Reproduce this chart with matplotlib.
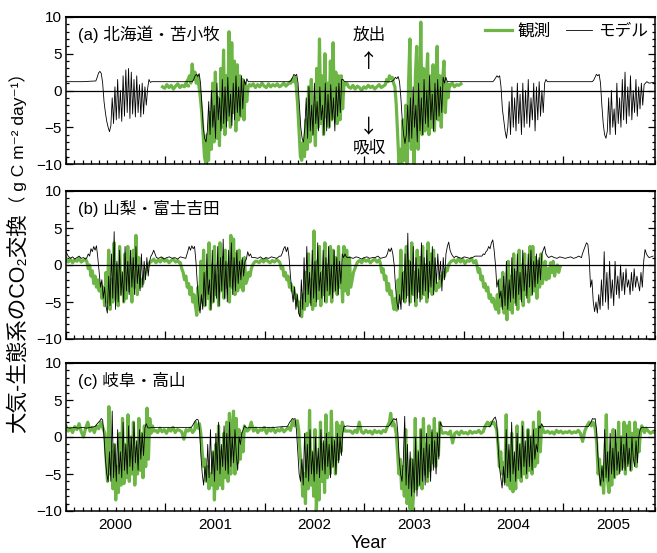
"""
大気-生態系のCO2交換: 観測 vs モデル (苫小牧・富士吉田・高山)
"""
import matplotlib
matplotlib.use('Agg')
import matplotlib.pyplot as plt
import numpy as np
from matplotlib.ticker import MultipleLocator, FixedLocator, FuncFormatter, NullFormatter
from matplotlib.lines import Line2D

plt.rcParams['font.family'] = ['Liberation Sans', 'Noto Sans CJK JP', 'DejaVu Sans']

GREEN = '#6DB646'; BLACK = '#000000'

# 各系列: (開始年, 間隔[日], 値リスト) のセグメント
A_OBS = [
    (2000.97, 8, [0.5, 0.3, 0.8, 0.4, 0.7, 0.2, 0.6, 0.9, 0.4, 0.7, 0.5, 0.9, 0.6]),
    (2001.20, 5, [0.8, 1.2, 1.5, 2.0, 1.0, 3.6, 1.5, 2.5, 1.0, 2.0, 0.5, -1.0, -3.0, -6.0, -9.0, -10.0,
                  -6.0, -9.5, -3.0, -8.0, 1.0, -7.0, 2.5, -6.5, -1.0, -7.5, 3.0, -5.0, 5.5, -6.0, 2.0,
                  -4.0, 8.0, -5.0, 6.5, -3.0, 4.0, -5.5, 3.5, -4.0, 2.0, -3.5, 1.5, -4.0, 1.0,
                  -1.5, 0.5, 0.8]),
    (2001.86, 8, [0.6, 0.9, 0.4, 0.8, 0.5, 1.0, 0.6, 0.4, 0.9, 0.5, 0.8, 0.6, 0.9, 0.5, 0.7, 1.0,
                  0.6, 0.9, 1.2]),
    (2002.26, 5, [1.0, 1.5, 1.2, 1.8, 0.5, -2.0, -5.5, -9.0, -9.5, -7.0, -9.0, -4.0, -8.0, 0.5, -7.0,
                  1.5, -6.0, -2.0, -7.5, 3.0, -5.0, 7.0, -4.5, 2.0, -6.0, 5.0, -3.5, 1.0, -5.0, 4.0,
                  -4.0, 6.5, -3.5, 2.5, -4.5, 2.0, -4.0, 2.0, -2.5, 1.0, 0.8, 1.0]),
    (2002.84, 8, [0.5, 0.3, 0.7, 0.2, 0.6, 0.4, 0.0, 0.5, 0.3, 0.7, 0.4, 0.6, 0.2, 0.5, 0.8, 0.4, 0.6]),
    (2003.21, 5, [0.8, 1.5, 1.2, 2.0, 1.6, 1.8, 1.0, 0.5, -2.0, -6.0,
                  -10.0, -8.0, -10.0, -4.0, -9.5, -2.0, -10.0, 1.0, 7.0, -8.0, -3.0, -10.0, 2.0, 6.0,
                  -8.0, -2.0, 9.3, -6.0, 3.0, -5.5, 1.0, 5.0, -6.0, 2.0, -5.0, 3.5, -5.5, 1.0, 6.0,
                  -4.0, 2.0, -5.0, 1.5, 4.0, -3.0, 1.0, -1.0, 0.8]),
    (2003.86, 8, [0.6, 1.0, 0.5, 0.8, 0.7, 0.9]),
]
A_MOD = [
    (2000.00, 30, [1.2, 1.2, 1.2]),
    (2000.30, 5, [1.3, 1.8, 2.4, 2.6, 2.3, 1.0, -1.5, -3.0, -4.2, -5.0, -5.6,
                  -4.8, -1.0, -4.5, 0.5, -4.0, 1.5, -3.8, 0.0, -4.2, 2.0, -3.5, 2.8, -3.0, 3.0, -3.8,
                  2.5, -3.2, 1.5, -3.6, 2.0, -3.0, 0.8, -3.6, 1.0, -3.2, 0.5, -2.0, 0.3, 1.5, 1.1, 1.2]),
    (2001.27, 5, [1.2, 1.5, 2.0, 2.2, 1.9, 2.3, 1.0, -2.0, -5.0, -6.5, -7.0,
                  -5.5, -1.5, -6.0, 0.0, -5.0, -2.0, -6.5, 1.0, -4.0, -1.0, -5.5, 1.5, -4.5, 0.5, -5.0,
                  1.8, -3.5, -0.5, -4.8, 1.0, -4.0, 2.0, -3.0, 0.5, -3.5, 2.0, -2.5, 1.5, 0.8, 1.6, 1.2]),
    (2002.25, 5, [1.2, 1.4, 1.8, 2.2, 2.0, 2.2, 1.0, -2.0, -5.0, -6.5, -7.0,
                  -5.0, -1.0, -6.5, 0.5, -5.5, -2.0, -6.0, 1.0, -4.5, -1.5, -5.5, 0.5, -4.0, -2.0, -6.0,
                  1.0, -5.5, -0.5, -5.0, 0.8, -4.0, -1.0, -5.5, 0.5, -3.5, 1.0, -3.0, 1.5, 1.5, 1.2]),
    (2003.27, 5, [1.2, 1.3, 1.5, 1.8, 1.6, 1.9, 1.2, -1.0, -4.0, -6.0, -7.2,
                  -6.0, -2.0, -7.0, -1.0, -6.5, 0.5, -5.0, -2.0, -7.0, 1.0, -5.5, -1.0, -6.0, 1.5, -4.5,
                  0.0, -5.0, 2.0, -4.0, -0.5, -5.5, 1.0, -4.0, 1.5, -3.5, 0.5, -3.0, 1.8, 1.0, 1.8, 1.2]),
    (2004.29, 5, [1.2, 1.4, 1.7, 2.0, 1.8, 2.0, 0.5, -2.5, -4.0, -5.5, -6.5,
                  -5.0, -1.5, -6.0, 0.5, -5.0, -1.0, -5.5, 1.0, -4.5, -0.5, -6.0, 1.0, -5.0, 0.0, -4.5,
                  1.5, -5.0, -1.0, -4.0, 1.0, -5.5, 0.5, -4.0, 1.2, -3.5, 0.0, -3.0, 1.0, 1.5, 1.2]),
    (2005.29, 5, [1.2, 1.4, 1.8, 2.2, 2.0, 2.2, 1.0, -2.0, -4.5, -6.0, -6.5,
                  -5.5, -1.0, -6.0, 0.0, -5.0, -2.5, -6.0, 1.0, -4.5, -1.0, -5.0, 1.5, -4.0, 2.5, -4.5,
                  0.5, -3.5, 2.0, -4.0, 0.0, -3.0, 1.5, -3.5, 0.5, -2.5, 1.0, -2.0, 0.8, 1.0, 1.2]),
    (2005.86, 30, [1.0, 1.2]),
]

B_OBS = [
    (2000.00, 8, [0.9, 0.4, 0.8, 0.3, 0.7, 0.5, 0.9, 0.4, 0.6, 0.8]),
    (2000.21, 5, [0.4, -0.5, 0.0, -1.5, -0.8, -2.5, -1.5, -3.0, -2.0, -3.5, -2.5, -4.5,
                  -3.0, -5.5, -1.0, -5.0, 2.0, -6.0, -2.0, -5.0, 3.0, -4.5, 0.0, -5.5, 2.5, -4.0, -1.0,
                  -5.0, 1.5, -4.5, 2.5, -3.5, -0.5, -5.0, 2.0, -3.0, 4.0, -4.0, 1.0, -3.0,
                  -2.0, -2.5, -1.5, -1.0, -0.5, 0.0, 0.3]),
    (2000.86, 8, [0.5, 0.8, 0.3, 0.7, 0.4, 0.9, 0.5, 0.7, 0.3, 0.6, 0.8, 0.4, 0.6, 0.2]),
    (2001.15, 5, [0.3, -0.5, -1.0, -2.0, -1.5, -3.0, -2.5, -4.0, -3.0, -5.0, -4.0, -5.5,
                  -6.8, -3.0, -6.0, 0.5, -5.0, 2.0, -5.5, -1.0, -4.5, 3.0, -6.0, 0.0, -5.0, 2.5, -4.0,
                  -1.5, -5.5, 3.0, -3.5, 1.0, -4.5, 2.0, -3.0, 0.0, -5.0, 4.0, -3.0, 3.5, -4.0, 1.5,
                  -3.5, 2.0, -3.0, 0.5, -3.5, 1.0,
                  -2.5, -2.0, -1.0, -1.5, -0.5, 0.0, 0.3, 0.5]),
    (2001.92, 8, [0.5, 0.3, 0.7, 0.4, 0.8, 0.5, 0.3, 0.6, 0.4, 0.7, 0.5]),
    (2002.15, 5, [0.3, -0.5, -0.2, -1.5, -1.0, -2.0, -1.5, -3.0, -2.5, -3.5, -3.0, -4.5, -4.0, -5.5,
                  -5.0, -6.5, -7.0,
                  -4.0, -6.0, -1.0, -5.5, 1.5, -5.0, -2.0, -6.0, 4.6, -5.5, 0.5, -4.5, 2.5, -5.5, -1.0,
                  -4.0, 3.0, -5.0, 0.0, -4.0, 2.5, -5.0, 2.0, -3.5, 1.0, -4.0, 2.5, -3.0, -1.0, -5.0,
                  2.5, -3.5, 2.0, -4.0, 1.0, -3.0,
                  -2.0, -1.0, -0.5, 0.0, 0.4]),
    (2002.95, 8, [0.6, 0.3, 0.8, 0.5, 0.7, 0.3, 0.6, 0.8, 0.4, 0.7]),
    (2003.16, 5, [0.2, -1.0, -0.5, -2.0, -1.5, -3.5, -2.5, -4.0, -3.5, -5.0, -6.0, -4.5,
                  -6.1, -2.0, -5.0, 2.0, -4.5, -1.0, -5.0, 2.5, -4.0, 0.5, -5.0, 3.0, -4.0, -1.0, -5.5,
                  2.0, -3.5, 1.0, -4.5, 2.5, -4.0, 0.0, -5.0, 3.0, -3.5, 1.5, -4.0, 2.0, -3.0,
                  -3.5, -2.5, -3.0, -1.5, -2.0, -1.0, -1.5, -0.5, -0.8, 0.0, 0.3, 0.5]),
    (2003.90, 8, [0.7, 0.3, 0.9, 0.4, 0.8, 0.2, 0.6, 0.5, 0.9, 0.3, 0.6]),
    (2004.13, 5, [0.0, -1.0, -0.5, -2.0, -1.5, -3.0, -2.5, -3.5, -3.0, -4.5, -4.0, -5.0, -4.5, -5.5,
                  -6.0,
                  -4.0, -6.5, -2.0, -5.5, -1.0, -6.5, -3.0, -7.4, 0.5, -6.0, -1.5, -6.5, 1.5, -5.0,
                  -1.0, -6.0, 2.0, -4.5, 0.0, -5.5, 1.5, -4.0, -1.5, -5.0, 2.5, -4.0, 2.5, -3.5, 1.0,
                  -4.5, 0.5, -3.0, 1.5,
                  -2.5, -1.5, 0.5, -2.0, -0.5, -1.8, 0.3, -1.0, 0.5, -1.5, -0.5, 0.0, -1.0, -0.3]),
]
B_MOD = [
    (2000.00, 8, [1.8, 1.2, 0.9, 1.1, 0.8, 1.0, 1.2, 0.9, 1.0, 0.8]),
    (2000.21, 5, [1.0, 1.5, 1.2, 2.2, 1.8, 2.5, 2.0, 2.6, 1.0, -1.0,
                  -3.0, -2.0, -4.5, -3.0, -5.5, -6.5, -1.5, -5.5, 1.5, -4.5,
                  4.5, -6.0, 0.5, -5.0, 2.0, -4.0, -1.0, -5.0, 2.5, -3.5,
                  0.5, -4.0, 2.0, -3.0, 1.0, -4.0, 2.5, -2.5, 0.0, -3.5,
                  1.5, -3.0, 0.5, -2.0, 1.0, -1.5, 0.5, 1.2, 1.5, 2.0, 1.5, 1.0]),
    (2000.93, 10, [0.9, 1.1, 0.8, 1.0, 1.1, 0.9, 1.0, 0.8, 1.1, 1.0, 0.9]),
    (2001.21, 5, [1.2, 1.8, 2.5, 2.0, 2.6, 2.2, 2.5, 0.5, -2.5, -5.0,
                  -6.5, -4.0, -6.0, -1.0, -5.5, 1.5, -4.0, -2.0, -6.0, 2.0,
                  -5.0, 0.0, -4.5, 2.5, -5.5, 1.0, -3.5, 3.5, -4.5, 0.5,
                  -5.0, 2.0, -3.0, 3.0, -4.0, 1.0, -3.5, 2.0, -2.5, 0.5,
                  -2.0, 1.0, -1.5, 0.5, 0.8, 1.8, 1.2, 1.5, 1.0]),
    (2001.90, 10, [1.0, 0.9, 1.1, 0.8, 1.0, 0.9, 1.1, 1.0, 0.9, 1.2]),
    (2002.16, 5, [1.2, 1.6, 2.2, 2.5, 1.8, 2.4, 1.0, -1.5, -3.5, -5.0,
                  -3.0, -6.0, -4.0, -6.5, -7.0, -2.0, -6.0, 1.0, -5.0, 2.5,
                  -4.0, -1.0, -5.5, 2.0, -4.5, 0.5, -5.0, 3.0, -3.5, -1.0,
                  -4.5, 2.0, -5.0, 1.0, -3.5, 2.5, -4.0, 0.0, -4.5, 2.0,
                  -3.5, 1.0, -4.0, 0.5, -2.5, 1.5, 1.0, 1.5, 1.1, 1.0]),
    (2002.86, 10, [1.0, 0.9, 1.1, 1.0, 0.8, 1.0, 1.1, 0.9, 1.0, 1.0, 1.2, 0.9, 1.0, 1.1]),
    (2003.23, 5, [1.5, 2.2, 1.8, 2.3, 1.5, 0.0, -3.0, -5.0, -6.0, -4.0,
                  -6.0, -1.0, -5.0, 1.5, -4.5, 4.3, -5.5, 0.5, -4.0, 2.5,
                  -5.0, 1.0, -4.5, -0.5, -5.0, 3.0, -4.0, 1.0, -3.5, 2.0,
                  -4.5, 0.5, -3.0, 2.5, -4.0, 1.0, -2.5, 1.5, -2.0, 0.5,
                  -3.5, 1.0, -2.0, 1.5, 2.5, 3.1, 2.0, 1.5, 1.2, 1.0]),
    (2003.92, 10, [1.2, 1.0, 0.9, 1.1, 1.0, 0.9, 1.0, 1.2]),
    (2004.18, 5, [1.2, 1.5, 1.4, 1.8, 2.0, 2.5, 2.2, 3.0, 3.4, 2.0,
                  0.0, -3.0, -2.0, -4.5, -3.5, -6.0, -1.5, -5.5, 0.5, -6.0,
                  -2.0, -5.0, 1.0, -4.5, -0.5, -5.5, 1.5, -4.0, -1.0, -5.0,
                  2.0, -3.5, 0.0, -4.5, 1.5, -3.0, 2.0, -4.0, 0.5, -3.0,
                  1.5, -2.5, 1.0, -2.0, 1.5, 2.0, 2.5, 1.5, 1.2, 1.0]),
    (2004.88, 10, [1.2, 1.0, 0.9, 1.1, 1.0, 0.9, 1.0, 1.1, 0.9, 1.0, 1.2, 1.0]),
    (2005.19, 5, [1.5, 2.0, 2.5, 3.0, 2.8, 1.0, -3.0, -2.0, -5.0, -6.3,
                  -5.0, -6.5, -4.0, -6.0, -2.0, -5.5, 1.8, -5.0, -1.0, -6.0,
                  0.5, -4.5, -2.0, -5.5, 0.5, -4.0, -1.5, -4.5, 0.0, -3.5,
                  -1.0, -4.0, -0.5, -3.0, -2.0, -4.0, -1.0, -3.5, -0.5, -3.0,
                  -1.5, -2.5, -3.5, -1.0, -3.0, 0.5, 2.1, 1.5, 1.2, 1.0]),
    (2005.90, 10, [1.2]),
]

C_OBS = [
    (2000.00, 8, [1.5, 0.8, 1.2, 0.6, 1.4, 1.0, 1.8, 0.7, 0.0, 1.2, 2.0, 0.8, 1.3, 0.6, 1.5, 1.1, 2.0]),
    (2000.39, 5, [0.5, -3.0, -6.0, 4.1, -5.0, -2.0, -7.0, -1.0, -8.5, -4.0,
                  -7.5, 0.5, -6.5, 2.5, -6.3, -1.0, -5.5, 3.0, -6.0, 0.0, -5.0, 2.0, -6.5, -1.5,
                  -5.0, 2.5, -4.5, 0.5, -5.5, 1.5, -4.0, 3.9, -3.0, 2.5, 0.5, 1.5, 0.8]),
    (2000.90, 8, [0.9, 0.6, 1.2, 0.7, 1.0, 0.5, 1.1, 0.8, 1.3, 0.6, 1.0, 0.9, 0.7, -0.3, 1.0, 0.8,
                  1.2, 0.6, 1.0]),
    (2001.30, 5, [2.0, 1.5, 1.2, 1.8, 0.5, -2.0, -4.0, -3.0, -6.0, -4.0, -7.0, -5.0, -6.5, -2.0,
                  -8.5, -1.0, -7.0, 1.5, -6.5, -2.0, -7.0, 0.5, -5.5, 2.0, -6.0, 3.2, -5.0, 1.0, 3.5,
                  -5.0, 2.5, -3.5, 1.0, -3.0, 0.5, -2.0, 1.5, 1.0, 0.8]),
    (2001.84, 8, [1.0, 2.0, 0.8, 1.2, 0.6, 1.0, 0.9, 1.3, 0.5, 1.1, 0.8, 1.2, 0.6, 1.0, 0.8, 1.2,
                  0.7, 1.0, 1.3, 0.9]),
    (2002.27, 5, [1.8, 2.2, 1.5, 2.0, 2.2, 1.0, -2.0, -4.0, -8.0, -5.0,
                  -9.0, 0.5, -7.0, 3.6, -6.5, -2.0, -8.0, 1.0, -10.0, -3.0, -8.5, 2.0, -6.0, -1.0,
                  -7.5, 3.0, -5.5, 0.5, -5.0, 3.5, -4.0, -0.5, -5.0, 2.0, -3.0, 1.5, -2.0,
                  2.0, 1.2, 0.8]),
    (2002.86, 8, [0.8, 0.5, 0.9, 0.6, 2.0, 0.7, 0.5, 0.9, 0.6, 0.8, 0.4, 0.9, 0.6, 0.8, 0.5, 0.9,
                  0.7, 1.5]),
    (2003.25, 5, [2.0, 3.2, 1.5, 2.0, 1.5, 0.5, -2.0, -5.0, -3.0, -7.0,
                  -4.0, -8.0, 1.0, -9.0, -6.0, -9.7, -3.0, -10.0, -7.0, 2.5, -7.0, -2.0, -6.5, 1.0,
                  -7.0, 2.5, -5.0, -1.0, -6.0, 1.5, -4.5, 0.5, -3.5, 2.5, -4.0, 0.5, -2.5,
                  2.0, 1.0, 0.5]),
    (2003.82, 8, [0.6, 0.4, 0.8, -0.8, 0.5, 0.7, 0.3, 0.8, 0.5, 0.6, 0.4, 0.8, 0.5, 0.7, 0.6, 0.9,
                  0.5, 0.7, 1.5, 2.0]),
    (2004.26, 5, [1.5, 2.0, 1.8, 2.0, 1.5, 1.0, -1.0, -4.0, -2.0, -5.0, -3.5,
                  -6.0, 3.0, -6.5, -2.0, -7.0, 0.5, -7.4, -3.0, -7.0, 1.5, -5.5, -1.0, -6.0, 2.0,
                  -5.0, -1.5, -5.5, 1.0, -4.5, 0.0, -5.0, 2.0, -4.0, 1.0, -3.5, 3.4,
                  -2.0, 1.5, 1.0, 0.6]),
    (2004.82, 8, [0.6, 0.8, 0.5, 0.7, 0.4, 0.9, 0.6, 0.8, 0.5, 0.7, 0.6, 0.8, 0.5, 0.7, 0.6, 0.9,
                  0.5, -0.6, 0.8, 1.5, 2.0]),
    (2005.28, 5, [1.5, 2.0, 1.8, 1.0, -1.0, -5.0, -3.0, -6.5, -4.0, -7.6,
                  -3.0, 3.0, -6.0, -7.5, -2.0, -6.5, 1.0, -5.5, -1.0, -5.0, 2.0, -4.5, 0.0, -4.0,
                  2.0, -5.0, 1.5, -3.5, 2.0, -4.5, 0.5, -3.0, 2.0, -4.0, 1.0, -2.0,
                  0.5, 1.5, 1.0, 0.6]),
    (2005.83, 8, [1.2, 0.8, 0.5, 0.7, 0.6]),
]
C_MOD = [
    (2000.00, 15, [1.3, 1.2, 1.3, 1.2, 1.3, 1.2, 1.3, 1.4]),
    (2000.30, 5, [1.5, 1.8, 2.0, 2.2, 2.5, 2.3, 0.0, -3.0, -5.0, -6.0,
                  -2.0, -6.0, 3.5, -5.5, -1.0, -6.0, 1.0, -5.0, -2.0, -5.5, 2.0, -4.5, -1.0, -5.0,
                  1.5, -4.0, 0.0, -4.5, 2.0, -3.5, -0.5, -4.5, 1.0, -3.0, 0.5, -2.5,
                  1.2, 1.8, 1.3, 1.2]),
    (2000.86, 30, [1.3, 1.3, 1.3, 1.3, 1.3]),
    (2001.26, 5, [1.3, 1.6, 1.9, 2.2, 2.4, 2.3, 1.0, -2.5, -5.0, -6.5,
                  -4.0, -6.0, -1.0, -5.5, 1.0, -5.0, -2.0, -6.0, 0.5, -4.5, 2.0, -5.0, -1.0, -4.0,
                  1.5, -4.5, 0.5, -5.0, 2.0, -4.0, 0.0, -3.5, 1.0, -2.5, -4.5, 0.0,
                  -1.0, 0.5, 1.0, 1.5, 1.3, 1.2]),
    (2001.85, 30, [1.3, 1.3, 1.3, 1.3, 1.4]),
    (2002.22, 5, [1.4, 1.6, 2.0, 2.2, 2.5, 2.4, 2.5, 1.0, -2.0, -5.0, -6.0,
                  -3.0, -6.5, 0.5, -5.5, -1.0, -6.0, 1.0, -5.0, -2.0, -6.0, 0.0, -5.0, -1.5, -5.5,
                  1.0, -4.5, -0.5, -5.0, 0.5, -4.0, -1.0, -5.5, 0.0, -4.0, -0.5, -5.0, 0.5, -3.5,
                  0.0, -2.5, 0.5, 1.5, 1.4, 1.5]),
    (2002.88, 30, [1.4, 1.4, 1.4, 1.4, 1.4]),
    (2003.24, 5, [1.4, 1.6, 1.9, 2.2, 2.5, 2.3, 2.5, 0.5, -3.0, -5.0,
                  -6.0, -3.0, 2.8, -6.5, -1.0, -7.0, -2.0, -8.0, -3.0, -7.5, 0.0, -8.0, -2.0, -6.5,
                  1.0, -6.0, -1.5, -6.5, 0.5, -5.5, -1.0, -6.0, 1.0, -4.5, -0.5, -5.0, 0.5, -3.0,
                  2.0, 1.6, 1.4, 1.4]),
    (2003.83, 30, [1.4, 1.4, 1.4, 1.4, 1.4, 1.4]),
    (2004.26, 5, [1.4, 1.7, 2.2, 2.5, 2.7, 2.0, -1.0, -4.0, -5.5, -6.9,
                  -4.0, -6.5, 1.0, -5.5, -1.0, -6.0, 2.0, -5.0, -2.0, -6.0, 0.5, -4.5, -1.0, -5.5,
                  1.5, -4.0, -0.5, -5.0, 1.0, -4.0, 0.0, -4.5, 1.0, -3.0, -1.0, -2.0,
                  1.5, 1.2, 1.8, 1.4]),
    (2004.82, 30, [1.4, 1.4, 1.4, 1.4, 1.4, 1.4]),
    (2005.25, 5, [1.4, 1.7, 2.0, 2.5, 2.4, 2.5, 1.0, -2.5, -5.0, -6.5,
                  -4.0, -6.0, 1.0, -5.5, -2.0, -6.0, 0.5, -5.0, -1.5, -5.5, 1.0, -4.5, -2.0, -5.0,
                  0.0, -4.5, -1.0, -4.5, 0.5, -4.0, -1.5, -4.5, 0.0, -3.0,
                  -4.0, -0.5, -3.5, 0.0, 1.0, 1.3, 1.3]),
    (2005.88, 30, [1.3, 1.3]),
]

SITE_LABELS = ['(a) 北海道・苫小牧', '(b) 山梨・富士吉田', '(c) 岐阜・高山']
YEARS = [2000, 2001, 2002, 2003, 2004, 2005]


def build(segs):
    x, y = [], []
    for t0, step, vals in segs:
        x.extend(t0 + np.arange(len(vals)) * step / 365.0)
        y.extend(vals)
    return np.array(x), np.array(y)


fig = plt.figure(figsize=(6.57, 5.53), dpi=100, facecolor='white')

# 各パネル位置 (ピクセル → 図座標)
W, H = 657, 553
L, R = 66, 655
panels = [(17, 164), (191, 339), (363, 511)]

month_ticks = [y + m / 12 for y in YEARS for m in range(1, 12)]
CJK = ['Noto Sans CJK JP', 'DejaVu Sans']

for i, ((top, bot), lab, obs, mod) in enumerate(zip(
        panels, SITE_LABELS, [A_OBS, B_OBS, C_OBS], [A_MOD, B_MOD, C_MOD])):
    ax = fig.add_axes([L / W, 1 - bot / H, (R - L) / W, (bot - top) / H])
    xo, yo = build(obs)
    xm, ym = build(mod)
    ax.plot(xo, yo, color=GREEN, lw=2.3, zorder=2)
    ax.plot(xm, ym, color=BLACK, lw=0.6, zorder=3)
    ax.axhline(0, color=BLACK, lw=0.9, zorder=4)

    ax.set_xlim(2000, 2005.92)
    ax.set_ylim(-10, 10)
    for s in ax.spines.values():
        s.set_linewidth(1.1)
    ax.spines['top'].set_linewidth(1.5)

    ax.yaxis.set_major_locator(MultipleLocator(5))
    ax.yaxis.set_minor_locator(MultipleLocator(1))
    ax.xaxis.set_major_locator(FixedLocator(YEARS))
    ax.xaxis.set_minor_locator(FixedLocator(month_ticks))
    ax.tick_params(axis='y', which='both', direction='in', left=True, right=True,
                   labelsize=11, pad=3, width=0.9)
    ax.tick_params(axis='y', which='major', length=5)
    ax.tick_params(axis='y', which='minor', length=2.5)
    ax.tick_params(axis='x', which='both', direction='in', top=False, bottom=True, width=0.9)
    ax.tick_params(axis='x', which='major', length=6, labelbottom=False)
    ax.tick_params(axis='x', which='minor', length=3, labelsize=11, pad=5)
    if i == 2:
        ax.xaxis.set_minor_formatter(FuncFormatter(
            lambda v, p: f'{int(v)}' if abs(v - int(v) - 0.5) < 1e-6 else ''))
    else:
        ax.xaxis.set_minor_formatter(NullFormatter())

    ax.text(0.02, 0.885, lab, transform=ax.transAxes, fontsize=12, va='center', ha='left')

    if i == 0:
        xa = 2003.045
        ax.text(xa, 7.55, '放出', fontsize=12, ha='center', va='center')
        ax.text(xa, 3.9, '↑', fontsize=14, ha='center', va='center', family=CJK)
        ax.text(xa, -5.0, '↓', fontsize=14, ha='center', va='center', family=CJK)
        ax.text(xa, -7.7, '吸収', fontsize=12, ha='center', va='center')
        handles = [Line2D([], [], color=GREEN, lw=2.3), Line2D([], [], color=BLACK, lw=0.6)]
        ax.legend(handles, ['観測', 'モデル'], loc='upper right', ncol=2, frameon=False,
                  fontsize=12, handlelength=1.6, handletextpad=0.35, columnspacing=0.9,
                  borderaxespad=0, borderpad=0,
                  bbox_to_anchor=((648 - L) / (R - L), (164 - 23) / 147))

# 軸ラベル
fig.text(18 / W, 1 - 433 / H, '大気-生態系のCO₂交換', rotation=90,
         ha='center', va='bottom', fontsize=15.5)
fig.text(18 / W, 1 - 213 / H, '（ g C m⁻² day⁻¹）', rotation=90,
         ha='center', va='bottom', fontsize=12.5)
fig.text(369 / W, 1 - 543 / H, 'Year', ha='center', va='center', fontsize=13)

fig.savefig('out.png', dpi=100, facecolor='white')
plt.close()
